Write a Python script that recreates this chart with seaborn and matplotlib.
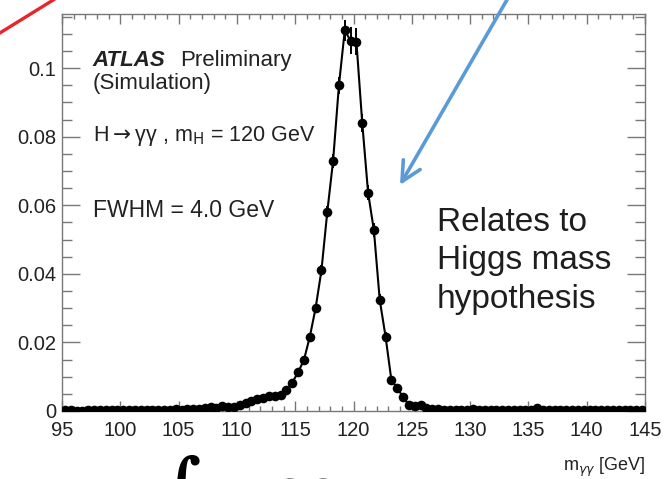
import numpy as np
import pandas as pd
import matplotlib
matplotlib.use("Agg")
import matplotlib.pyplot as plt
from matplotlib.lines import Line2D
from matplotlib.patches import FancyArrowPatch
from matplotlib.ticker import MultipleLocator
import seaborn as sns

# ---- data ----
mass_centers = [95.25 + 0.5 * i for i in range(100)]
fraction = [
    0.0003, 0.0002, 0.0000, 0.0000, 0.0002, 0.0003, 0.0002, 0.0003, 0.0002, 0.0003,   # 95-100
    0.0003, 0.0002, 0.0003, 0.0003, 0.0004, 0.0003, 0.0004, 0.0003, 0.0004, 0.0005,   # 100-105
    0.0004, 0.0006, 0.0007, 0.0006, 0.0009, 0.0013, 0.0010, 0.0016, 0.0012, 0.0011,   # 105-110
    0.0018, 0.0022, 0.0030, 0.0034, 0.0038, 0.0043, 0.0044, 0.0046, 0.0061, 0.0083,   # 110-115
    0.0113, 0.0149, 0.0216, 0.0300, 0.0410, 0.0580, 0.0730, 0.0950, 0.1110, 0.1080,   # 115-120
    0.1077, 0.0840, 0.0637, 0.0527, 0.0324, 0.0217, 0.0090, 0.0068, 0.0040, 0.0018,   # 120-125
    0.0015, 0.0017, 0.0010, 0.0006, 0.0005, 0.0004, 0.0003, 0.0003, 0.0003, 0.0002,   # 125-130
    0.0006, 0.0003, 0.0003, 0.0002, 0.0003, 0.0003, 0.0002, 0.0003, 0.0003, 0.0002,   # 130-135
    0.0003, 0.0008, 0.0003, 0.0002, 0.0003, 0.0003, 0.0002, 0.0003, 0.0002, 0.0003,   # 135-140
    0.0003, 0.0002, 0.0004, 0.0003, 0.0002, 0.0003, 0.0003, 0.0002, 0.0003, 0.0003,   # 140-145
]
# visible error bars around the peak (bins 116.25 ... 122.75)
err_centers = [116.25, 116.75, 117.25, 117.75, 118.25, 118.75, 119.25, 119.75,
               120.25, 120.75, 121.25, 121.75, 122.25, 122.75]
err_values = [0.0010, 0.0012, 0.0015, 0.0018, 0.0020, 0.0024, 0.0030, 0.0040,
              0.0040, 0.0026, 0.0022, 0.0020, 0.0016, 0.0014]

x_major_ticks = [95, 100, 105, 110, 115, 120, 125, 130, 135, 140, 145]
y_major_ticks = [0, 0.02, 0.04, 0.06, 0.08, 0.1]
y_tick_labels = ["0", "0.02", "0.04", "0.06", "0.08", "0.1"]
annotation_lines = ["Relates to", "Higgs mass", "hypothesis"]

df = pd.DataFrame({"m": mass_centers, "f": fraction})
err_df = pd.DataFrame({"m": err_centers, "e": err_values})
err_df["f"] = df.set_index("m").loc[err_centers, "f"].values

sns.set_style("ticks")
plt.rcParams["font.family"] = ["Liberation Sans", "DejaVu Sans"]

W, H = 666, 479
fig = plt.figure(figsize=(W / 100, H / 100), dpi=100)
ax = fig.add_axes([62 / W, 1 - 411 / H, (645 - 62) / W, (411 - 14) / H])

sns.lineplot(data=df, x="m", y="f", ax=ax, color="black", lw=1.5, zorder=3)
ax.errorbar(err_df["m"], err_df["f"], yerr=err_df["e"], fmt="none",
            ecolor="black", elinewidth=1.4, zorder=4, clip_on=False)
sns.scatterplot(data=df, x="m", y="f", ax=ax, color="black", s=48,
                edgecolor="black", linewidth=0, zorder=5)

ax.set_xlim(95, 145)
ax.set_ylim(0, 0.1158)
ax.set_xticks(x_major_ticks)
ax.set_xticklabels([str(t) for t in x_major_ticks])
ax.set_yticks(y_major_ticks)
ax.set_yticklabels(y_tick_labels)
ax.xaxis.set_minor_locator(MultipleLocator(1))
ax.yaxis.set_minor_locator(MultipleLocator(0.005))
ax.set_xlabel("")
ax.set_ylabel("")

frame_col = "#777777"
for s in ax.spines.values():
    s.set_color(frame_col)
    s.set_linewidth(1.0)
ax.tick_params(axis="both", which="both", direction="in", top=True, right=True,
               color=frame_col, width=1.0, labelcolor="#222222")
ax.tick_params(axis="y", which="major", length=13, labelsize=14.5, pad=4)
ax.tick_params(axis="y", which="minor", length=7.5)
ax.tick_params(axis="x", which="major", length=7, labelsize=14.5, pad=7)
ax.tick_params(axis="x", which="minor", length=3.5)

# in-plot labels
txt_col = "#222222"
ax.text(0.053, 0.868, "ATLAS", transform=ax.transAxes, fontsize=16,
        fontweight="bold", fontstyle="italic", color=txt_col, va="baseline")
ax.text(0.203, 0.868, "Preliminary", transform=ax.transAxes, fontsize=16,
        color=txt_col, va="baseline")
ax.text(0.053, 0.812, "(Simulation)", transform=ax.transAxes, fontsize=16,
        color=txt_col, va="baseline")
ax.text(0.053, 0.68, "H$\\rightarrow$\u03b3\u03b3 , m$_{\\mathrm{H}}$ = 120 GeV",
        transform=ax.transAxes, fontsize=15.5, color=txt_col, va="baseline")
ax.text(0.053, 0.488, "FWHM = 4.0 GeV", transform=ax.transAxes, fontsize=16.5,
        color=txt_col, va="baseline")

fig.text(645 / W, 1 - 471 / H, "m$_{\\gamma\\gamma}$ [GeV]", fontsize=13,
         color=txt_col, ha="right", va="baseline")

# slide annotation text
for i, line in enumerate(annotation_lines):
    fig.text(437 / W, 1 - (231 + 38.5 * i) / H, line, fontsize=24,
             color="#1e1e1e", ha="left", va="baseline")

# red line in the upper-left corner
fig.add_artist(Line2D([-5 / W, 58 / W], [1 - 36 / H, 1 + 3 / H], color="#e8262a",
                      lw=2.4, transform=fig.transFigure, clip_on=False))

# blue arrow
fig.patches.append(FancyArrowPatch(
    (508 / W, 1 + 2 / H), (400 / W, 1 - 185 / H), transform=fig.transFigure,
    arrowstyle="->,head_length=14,head_width=7", color="#5b9bd5", lw=2.6,
    mutation_scale=1, shrinkA=0, shrinkB=0))

# partially visible formula at the very bottom
fig.text(160 / W, 1 - 507 / H, "\u222b", fontsize=50, color="black",
         ha="left", va="baseline", family="DejaVu Serif", fontweight="bold")
fig.text(272 / W, 1 - 512 / H, "oo", fontsize=44, color="black",
         ha="left", va="baseline")

fig.savefig("out.png", dpi=100)
